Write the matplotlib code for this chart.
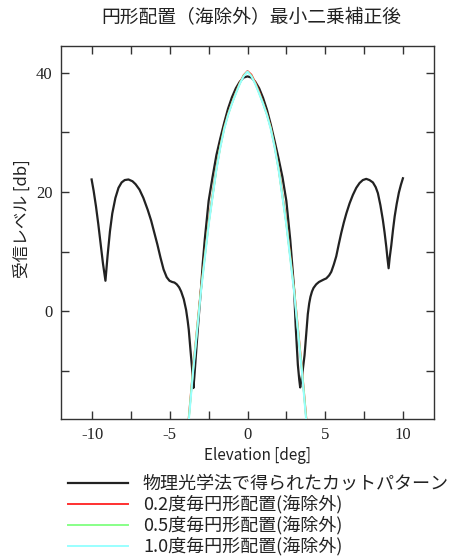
import matplotlib
matplotlib.use("Agg")
import matplotlib.pyplot as plt
from matplotlib.ticker import MultipleLocator

plt.rcParams['font.family'] = ['Noto Sans CJK JP', 'DejaVu Sans']
plt.rcParams['axes.unicode_minus'] = False

# ---------------- data ----------------
black_x = [-10.03, -9.9, -9.75, -9.6, -9.45, -9.3, -9.14, -9.0, -8.85, -8.7,
           -8.5, -8.3, -8.1, -7.9, -7.66, -7.4, -7.2, -6.95, -6.7, -6.42,
           -6.2, -5.99, -5.8, -5.6, -5.4, -5.2, -5.02, -4.85, -4.7, -4.55,
           -4.4, -4.27, -4.1, -3.95, -3.85, -3.78, -3.67, -3.56, -3.48, -3.42,
           -3.35, -3.27, -3.2, -3.1, -3.0, -2.88, -2.75, -2.5, -2.25, -2.0,
           -1.75, -1.5, -1.25, -1.0, -0.75, -0.5, -0.25, 0.0, 0.25, 0.5,
           0.75, 1.0, 1.25, 1.5, 1.75, 2.0, 2.25, 2.5, 2.75, 2.9,
           3.0, 3.1, 3.24, 3.33, 3.39, 3.45, 3.55, 3.67, 3.78, 3.88,
           3.97, 4.05, 4.15, 4.25, 4.42, 4.6, 4.75, 4.9, 5.07, 5.25,
           5.39, 5.55, 5.71, 5.87, 6.03, 6.2, 6.36, 6.57, 6.78, 7.0,
           7.21, 7.42, 7.64, 7.85, 8.07, 8.25, 8.39, 8.55, 8.71, 8.82,
           8.93, 9.0, 9.08, 9.15, 9.25, 9.36, 9.47, 9.6, 9.74, 9.87,
           10.0]
black_y = [22.1, 20.2, 17.6, 14.6, 11.3, 8.0, 5.1, 9.4, 13.4, 16.4,
           19.0, 20.7, 21.6, 22.0, 22.1, 21.8, 21.3, 20.4, 19.0, 17.0,
           15.2, 13.1, 11.2, 9.0, 7.0, 5.7, 5.1, 4.9, 4.8, 4.5,
           4.0, 3.3, 2.0, 0.2, -1.6, -3.1, -6.5, -9.8, -12.9, -11.0,
           -8.5, -5.6, -3.1, 0.3, 3.5, 8.0, 12.0, 18.5, 22.5, 26.2,
           29.0, 31.6, 34.0, 35.9, 37.4, 38.5, 39.2, 39.4, 39.2, 38.5,
           37.4, 35.8, 33.8, 31.3, 28.5, 25.6, 22.5, 18.5, 12.0, 7.0,
           3.6, -2.5, -9.0, -11.5, -12.8, -11.8, -10.0, -7.4, -3.8, -0.5,
           1.3, 2.4, 3.3, 3.9, 4.5, 4.9, 5.1, 5.3, 5.5, 6.0,
           6.6, 7.8, 9.2, 11.2, 13.1, 14.9, 16.4, 18.1, 19.5, 20.7,
           21.5, 22.0, 22.2, 22.0, 21.6, 20.8, 19.8, 17.8, 15.3, 13.2,
           10.8, 9.0, 7.2, 9.0, 11.0, 13.6, 15.9, 18.0, 19.9, 21.2,
           22.3]

circ_x = [-3.85, -3.5, -3.0, -2.5, -2.0, -1.75, -1.5, -1.25, -1.0, -0.75,
          -0.5, -0.25, 0.0, 0.25, 0.5, 0.75, 1.0, 1.25, 1.5, 1.75,
          2.0, 2.5, 3.0, 3.5, 3.85]
red_y = [-20.0, -9.6, 3.7, 14.9, 24.0, 27.7, 30.8, 33.1, 35.0, 36.7,
         38.3, 39.6, 40.3, 39.7, 38.4, 36.8, 35.0, 33.1, 30.8, 27.7,
         24.0, 14.9, 3.7, -9.6, -20.0]
green_y = [-20.2, -9.8, 3.5, 14.7, 23.9, 27.6, 30.7, 33.0, 34.9, 36.6,
           38.2, 39.5, 40.2, 39.5, 38.2, 36.6, 34.9, 33.0, 30.7, 27.6,
           23.9, 14.7, 3.5, -9.8, -20.2]
cyan_y = [-20.6, -10.2, 3.1, 14.4, 23.7, 27.4, 30.5, 32.9, 34.8, 36.5,
          38.1, 39.4, 40.2, 39.4, 38.1, 36.5, 34.8, 32.9, 30.5, 27.4,
          23.7, 14.4, 3.1, -10.2, -20.6]

labels = ['物理光学法で得られたカットパターン',
          '0.2度毎円形配置(海除外)',
          '0.5度毎円形配置(海除外)',
          '1.0度毎円形配置(海除外)']
title = '円形配置（海除外）最小二乗補正後'
xlabel = 'Elevation [deg]'
ylabel = '受信レベル [db]'
xticks = [-10, -5, 0, 5, 10]
yticks = [0, 20, 40]

# ---------------- figure ----------------
W, H = 451, 557
fig = plt.figure(figsize=(W / 100, H / 100), dpi=100)
ax = fig.add_axes([61 / W, 1 - 419 / H, (434 - 61) / W, (419 - 46) / H])

l1, = ax.plot(black_x, black_y, color='#222222', lw=1.6, zorder=3)
l2, = ax.plot(circ_x, red_y, color='#ff3030', lw=1.4, zorder=4)
l3, = ax.plot(circ_x, green_y, color='#88ff88', lw=1.4, zorder=5)
l4, = ax.plot(circ_x, cyan_y, color='#99ffff', lw=1.4, zorder=6)

ax.set_xlim(-12, 12)
ax.set_ylim(-18.1, 44.5)
ax.set_xticks(xticks)
ax.set_yticks(yticks)
ax.xaxis.set_minor_locator(MultipleLocator(2.5))
ax.yaxis.set_minor_locator(MultipleLocator(10))
ax.tick_params(which='both', direction='in', top=True, right=True,
               length=6, width=1, color='#333333')
ax.tick_params(which='major', labelsize=12, pad=6)
for lab in ax.get_xticklabels() + ax.get_yticklabels():
    lab.set_fontfamily('Liberation Serif')
    lab.set_color('#222222')
for s in ax.spines.values():
    s.set_linewidth(1.0)
    s.set_color('#333333')

fig.text(251 / W, 1 - 18 / H, title, ha='center', va='center', fontsize=13.5,
         color='#222222')
fig.text(257 / W, 1 - 455 / H, xlabel, ha='center', va='center', fontsize=11,
         color='#222222')
fig.text(22 / W, 1 - 219 / H, ylabel, ha='center', va='center', fontsize=12,
         rotation=90, color='#222222')

leg = fig.legend([l1, l2, l3, l4], labels, loc='upper left',
                 bbox_to_anchor=(68 / W, 1 - 475 / H), frameon=False,
                 fontsize=13, handlelength=3.3, handletextpad=0.85,
                 labelspacing=0.12, borderpad=0, borderaxespad=0)
for t in leg.get_texts():
    t.set_color('#222222')

fig.savefig('out.png', dpi=100)
